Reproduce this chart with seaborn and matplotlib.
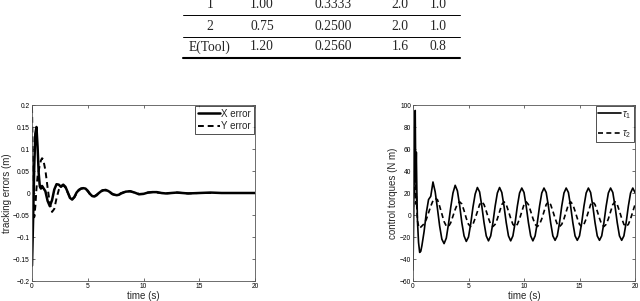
import numpy as np
import pandas as pd
import matplotlib
matplotlib.use("Agg")
import matplotlib.pyplot as plt
from matplotlib.lines import Line2D
import seaborn as sns

# table rows (top of the figure)
tab_rows = [["1", "1.00", "0.3333", "2.0", "1.0"],
            ["2", "0.75", "0.2500", "2.0", "1.0"],
            ["E(Tool)", "1.20", "0.2560", "1.6", "0.8"]]

# tracking errors
t_err = [0.0, 0.1, 0.2, 0.3, 0.4, 0.5, 0.6, 0.7, 0.8, 0.9, 1.0,
         1.2, 1.4, 1.6, 1.8, 2.0, 2.2, 2.4, 2.6, 2.8, 3.0, 3.2, 3.4, 3.6, 3.8,
         4.0, 4.2, 4.4, 4.6, 4.8, 5.0, 5.2, 5.4, 5.6, 5.8, 6.0, 6.2, 6.4, 6.6,
         6.8, 7.0, 7.2, 7.4, 7.6, 7.8, 8.0,
         8.4, 8.8, 9.2, 9.6, 10.0, 10.4, 10.8, 11.2, 11.6, 12.0,
         12.5, 13.0, 13.5, 14.0, 15.0, 16.0, 17.0, 18.0, 19.0, 20.0]
x_err = [-0.165, -0.060, 0.060, 0.135, 0.150, 0.105, 0.045, 0.015, 0.010, 0.016, 0.012,
         0.004, -0.018, -0.030, -0.016, 0.008, 0.020, 0.019, 0.014, 0.019, 0.014, 0.002, -0.011, -0.015, -0.009,
         0.001, 0.007, 0.010, 0.011, 0.010, 0.005, -0.002, -0.007, -0.008, -0.005, 0.000, 0.004, 0.006, 0.007,
         0.005, 0.002, -0.002, -0.004, -0.005, -0.004, -0.001,
         0.003, 0.004, 0.001, -0.003, -0.002, 0.001, 0.002, 0.002, 0.000, -0.001,
         0.000, 0.001, 0.000, -0.001, 0.000, 0.001, 0.000, 0.000, 0.000, 0.000]
y_err = [0.195, 0.030, -0.055, -0.030, 0.010, 0.038, 0.050, 0.064, 0.074, 0.079, 0.077,
         0.052, 0.012, -0.024, -0.043, -0.036, -0.012, 0.007, 0.016, 0.018, 0.012, 0.001, -0.009, -0.014, -0.010,
         -0.001, 0.006, 0.010, 0.011, 0.009, 0.004, -0.003, -0.007, -0.007, -0.004, 0.001, 0.005, 0.007, 0.006,
         0.004, 0.001, -0.003, -0.004, -0.004, -0.003, 0.000,
         0.003, 0.004, 0.001, -0.002, -0.002, 0.001, 0.002, 0.001, 0.000, -0.001,
         0.000, 0.001, 0.000, -0.001, 0.000, 0.000, 0.000, 0.000, 0.000, 0.000]

# control torques
t_tau = [0.0, 0.05, 0.1, 0.15, 0.2, 0.25, 0.3, 0.35, 0.4, 0.5, 0.6, 0.7] + \
        list(np.round(np.arange(0.8, 20.01, 0.2), 1))
tau1 = [-50, -10, 40, 80, 95, 30, 57, 20, -5, -25, -34, -33,
        -28, -15, 2, 14, 17, 30, 21, 6, -10, -22, -26, -21, -8, 7, 20, 27,
        22, 9, -7, -19, -24, -20, -8, 7, 19, 25,
        21, 8, -7, -19, -23.5, -19, -7, 8, 20, 25,
        20.5, 8, -7, -19, -23.5, -19, -7, 8, 20, 24.5,
        20.5, 8, -7, -19, -23.5, -19, -7, 8, 20, 24.5,
        20.5, 8, -7, -19, -23, -19, -7, 8, 20, 24.5,
        20.5, 8, -7, -19, -23, -19, -7, 8, 20, 24.5,
        20.5, 8, -7, -19, -23, -19, -7, 8, 20, 24.5,
        20.5, 8, -7, -19, -23, -19, -7, 8, 20, 24.5,
        20.5]
tau2 = [-8, 15, 25, 20, 35, 10, 20, 5, -5, -10, -12, -11,
        -10, -8, -4, 2, 8, 13, 15, 14, 8, 1, -6, -10, -10.5, -7, -1, 5,
        10, 12, 10, 4, -3, -8.5, -10.5, -8.5, -3, 3,
        9.5, 12, 9.5, 3.5, -3, -8.5, -10.5, -8.5, -3.5, 3,
        9.5, 12, 9.5, 3.5, -3, -8.5, -10.5, -8.5, -3.5, 3,
        9.5, 12, 9.5, 3.5, -3, -8.5, -10.5, -8.5, -3.5, 3,
        9.5, 12, 9.5, 3.5, -3, -8.5, -10.5, -8.5, -3.5, 3,
        9.5, 12, 9.5, 3.5, -3, -8.5, -10.5, -8.5, -3.5, 3,
        9.5, 12, 9.5, 3.5, -3, -8.5, -10.5, -8.5, -3.5, 3,
        9.5, 12, 9.5, 3.5, -3, -8.5, -10.5, -8.5, -3.5, 3,
        9.5]

df_err = pd.DataFrame({"t": t_err, "x": x_err, "y": y_err})
df_tau = pd.DataFrame({"t": t_tau, "tau1": tau1, "tau2": tau2})

sns.set_style("ticks")
plt.rcParams["font.family"] = ["Liberation Sans", "DejaVu Sans"]
plt.rcParams["mathtext.fontset"] = "custom"
plt.rcParams["mathtext.rm"] = "Liberation Sans"
plt.rcParams["mathtext.it"] = "Liberation Sans:italic"

fig = plt.figure(figsize=(6.4, 3.01), dpi=100)
W, H = 640, 301

# table
col_x = [210, 262, 333, 400, 438]
row_y = [5, 26, 47]
for r, yy in zip(tab_rows, row_y):
    for txt, xx in zip(r, col_x):
        fig.text(xx / W, 1 - yy / H, txt, ha="center", va="center",
                 fontsize=9.8, family=["Liberation Serif", "DejaVu Serif"])
for yy, lw in [(15, 0.7), (36.5, 0.7), (58, 1.5)]:
    fig.add_artist(Line2D([183 / W, 460 / W], [1 - yy / H] * 2, color="k", lw=lw))

ax1 = fig.add_axes([32 / W, 20 / H, 223 / W, 176 / H])
ax2 = fig.add_axes([413 / W, 20 / H, 222 / W, 176 / H])

sns.lineplot(data=df_err, x="t", y="x", ax=ax1, color="k", lw=1.8, label="X error")
sns.lineplot(data=df_err, x="t", y="y", ax=ax1, color="k", lw=1.4, label="Y error",
             dashes=(3, 2))
ax1.set_ylim(-0.2, 0.2)
ax1.set_yticks([-0.2, -0.15, -0.1, -0.05, 0, 0.05, 0.1, 0.15, 0.2])
ax1.set_yticklabels(["\u22120.2", "\u22120.15", "\u22120.1", "\u22120.05", "0",
                     "0.05", "0.1", "0.15", "0.2"])
ax1.set_ylabel("tracking errors (m)", fontsize=7, labelpad=1)

sns.lineplot(data=df_tau, x="t", y="tau1", ax=ax2, color="k", lw=1.2, label=r"$\tau_1$")
sns.lineplot(data=df_tau, x="t", y="tau2", ax=ax2, color="k", lw=1.2, label=r"$\tau_2$",
             dashes=(3, 2))
ax2.set_ylim(-60, 100)
ax2.set_yticks(range(-60, 101, 20))
ax2.set_ylabel("control torques (N m)", fontsize=7, labelpad=1)

for ax, lsp in ((ax1, 0.25), (ax2, 0.75)):
    ax.set_xlim(0, 20)
    ax.set_xticks([0, 5, 10, 15, 20])
    ax.set_xlabel("time (s)", fontsize=7, labelpad=0.5)
    ax.tick_params(direction="in", length=2.5, width=0.5, labelsize=4.8, pad=1.5,
                   top=True, right=True, colors="#333333", labelcolor="k")
    for s in ax.spines.values():
        s.set_linewidth(0.6)
        s.set_color("#555555")
    leg = ax.legend(loc="upper right", fontsize=7, frameon=True, fancybox=False,
                    handlelength=2.3, handletextpad=0.15, borderpad=0.25,
                    labelspacing=lsp, borderaxespad=0.15)
    leg.get_frame().set_edgecolor("k")
    leg.get_frame().set_linewidth(0.6)

fig.savefig("out.png", dpi=100)
